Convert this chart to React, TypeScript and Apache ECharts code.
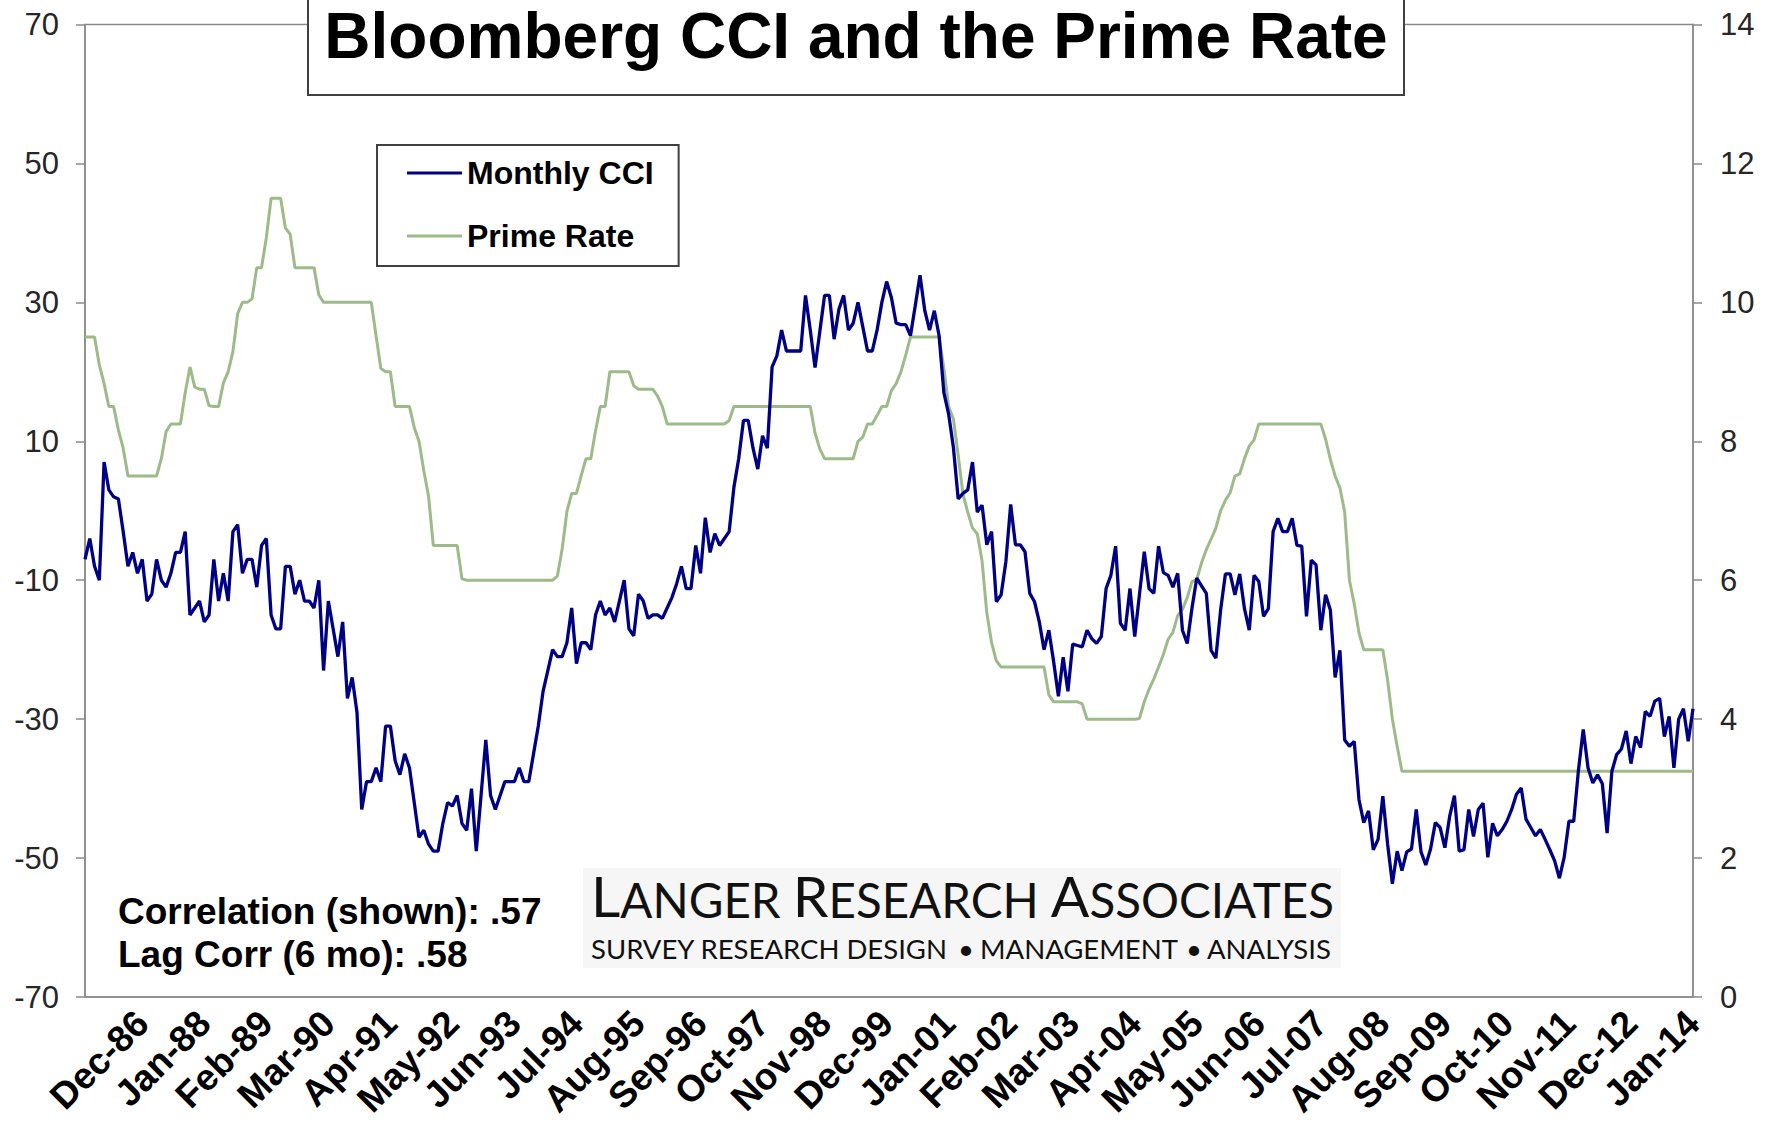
import React, { useEffect, useRef } from "react";
import * as echarts from "echarts";

// Months (categories) run from Dec-85 to Jan-14
const MONTH_NAMES = ["Jan", "Feb", "Mar", "Apr", "May", "Jun", "Jul", "Aug", "Sep", "Oct", "Nov", "Dec"];
const FIRST_YEAR = 1985;
const FIRST_MONTH = 11; // December
const MONTH_COUNT = 338;
const categories: string[] = [];
for (let k = 0; k < MONTH_COUNT; k++) {
  const m = (FIRST_MONTH + k) % 12;
  const y = FIRST_YEAR + Math.floor((FIRST_MONTH + k) / 12);
  categories.push(`${MONTH_NAMES[m]}-${String(y % 100).padStart(2, "0")}`);
}

// Tick labels
const leftTicks = [-70, -50, -30, -10, 10, 30, 50, 70];
const rightTicks = [0, 2, 4, 6, 8, 10, 12, 14];
const xLabelFirst = 12; // Dec-86
const xLabelStep = 13;

// Monthly CCI (left axis)
const cci: number[] = [
  -7, -4, -8, -10, 7, 3, 2, 1.7, -3, -8, -6, -9,
  -7, -13, -12, -7, -10, -11, -9, -6, -6, -3, -15, -14,
  -13, -16, -15, -7, -13, -9, -13, -3, -2, -9, -7, -7,
  -11, -5, -4, -15, -17, -17, -8, -8, -12, -10, -13, -13,
  -14, -10, -23, -13, -17, -21, -16, -27, -24, -29, -43, -39,
  -39, -37, -39, -31, -31, -36, -38, -35, -37, -42, -47, -46,
  -48, -49, -49, -45, -42, -42.5, -41, -45, -46, -40, -49, -41,
  -33, -41, -43, -41, -39, -39, -39, -37, -39, -39, -35, -31,
  -26, -23, -20, -21, -21, -19, -14, -22, -19, -19, -20, -15,
  -13, -15, -14, -16, -13, -10, -17, -18, -12, -13, -15.5, -15,
  -15, -15.5, -14, -12.5, -10.5, -8, -11.2, -11.2, -5, -9, -1, -6,
  -3.3, -5, -4, -3, 3.4, 7.5, 13, 13, 9, 6, 10.8, 9,
  20.7, 22.3, 26, 23, 23, 23, 23, 31, 26, 20.6, 25.8, 31,
  31, 24.7, 29, 31, 26, 27, 30, 26.5, 23, 23, 26, 30,
  33, 30.7, 27, 26.8, 26.8, 25.2, 29.5, 33.9, 28.8, 26, 28.8, 25.2,
  17, 13.9, 9.1, 1.7, 2.5, 3, 7, -0.2, 0.8, -4.9, -3, -13.1,
  -12.1, -7.3, 0.9, -4.9, -4.9, -5.9, -11.9, -13.1, -16, -20, -17.2, -21.7,
  -26.7, -21.1, -26, -19.2, -19.4, -19.6, -17.2, -18.4, -19.1, -18.1, -11.2, -9.3,
  -5.1, -16.2, -17.2, -11.2, -18.1, -12, -5.9, -11.2, -11.9, -5.1, -8.9, -9.3,
  -11, -9, -17.2, -19.1, -14, -9.7, -10.8, -11.9, -20.1, -21.2, -14.3, -9.1,
  -9.1, -12.1, -9.1, -14.1, -17.2, -9.3, -10.2, -15.2, -14.1, -3, -1.1, -3,
  -3, -1.1, -5, -5.1, -15.2, -7.1, -7.8, -17.2, -12.1, -14.3, -24, -20.1,
  -33, -33.9, -33.2, -41.6, -44.9, -43.2, -48.8, -47.3, -41.1, -48, -53.7, -49,
  -51.8, -49.1, -48.7, -43, -49.1, -51, -48.7, -44.9, -45.6, -48.5, -44, -41,
  -49, -48.8, -43, -46.9, -43, -42.1, -49.9, -45, -46.8, -45.9, -44.7, -43,
  -40.8, -39.9, -44.4, -45.6, -46.8, -45.9, -47.3, -48.8, -50.4, -52.9, -49.9, -44.7,
  -44.7, -37.3, -31.5, -37, -39.2, -38, -39.3, -46.4, -37.5, -35.1, -34.3, -31.7,
  -36.4, -32.5, -34.1, -28.9, -29.6, -27.4, -27, -32.5, -29.6, -37, -30, -28.5,
  -33.2, -28.5,
];

// Prime rate (right axis, %)
const primeRate: number[] = [
  9.5, 9.5, 9.5, 9.1, 8.83, 8.5, 8.5, 8.16, 7.9, 7.5, 7.5, 7.5,
  7.5, 7.5, 7.5, 7.5, 7.75, 8.14, 8.25, 8.25, 8.25, 8.7, 9.07, 8.78,
  8.75, 8.75, 8.51, 8.5, 8.5, 8.84, 9.0, 9.29, 9.84, 10.0, 10.0, 10.05,
  10.5, 10.5, 10.93, 11.5, 11.5, 11.5, 11.07, 10.98, 10.5, 10.5, 10.5, 10.5,
  10.5, 10.11, 10, 10, 10, 10, 10, 10, 10, 10, 10, 10,
  10, 9.52, 9.05, 9.0, 9.0, 8.5, 8.5, 8.5, 8.5, 8.2, 8.0, 7.58,
  7.21, 6.5, 6.5, 6.5, 6.5, 6.5, 6.5, 6.02, 6, 6, 6, 6,
  6, 6, 6, 6, 6, 6, 6, 6, 6, 6, 6, 6,
  6, 6, 6, 6.06, 6.45, 6.99, 7.25, 7.25, 7.51, 7.75, 7.75, 8.15,
  8.5, 8.5, 9, 9, 9, 9, 9, 8.8, 8.75, 8.75, 8.75, 8.75,
  8.65, 8.5, 8.25, 8.25, 8.25, 8.25, 8.25, 8.25, 8.25, 8.25, 8.25, 8.25,
  8.25, 8.25, 8.25, 8.3, 8.5, 8.5, 8.5, 8.5, 8.5, 8.5, 8.5, 8.5,
  8.5, 8.5, 8.5, 8.5, 8.5, 8.5, 8.5, 8.5, 8.5, 8.12, 7.89, 7.75,
  7.75, 7.75, 7.75, 7.75, 7.75, 7.75, 8.0, 8.06, 8.25, 8.25, 8.37, 8.5,
  8.5, 8.73, 8.83, 9.0, 9.24, 9.5, 9.5, 9.5, 9.5, 9.5, 9.5, 9.5,
  9.05, 8.5, 8.32, 7.8, 7.24, 6.98, 6.75, 6.67, 6.28, 5.53, 5.1, 4.84,
  4.75, 4.75, 4.75, 4.75, 4.75, 4.75, 4.75, 4.75, 4.75, 4.75, 4.35, 4.25,
  4.25, 4.25, 4.25, 4.25, 4.25, 4.22, 4.0, 4.0, 4.0, 4.0, 4.0, 4.0,
  4.0, 4.0, 4.0, 4.0, 4.0, 4.01, 4.25, 4.43, 4.58, 4.75, 4.93, 5.15,
  5.25, 5.49, 5.58, 5.75, 5.98, 6.01, 6.25, 6.44, 6.59, 6.75, 7.0, 7.15,
  7.26, 7.5, 7.53, 7.75, 7.93, 8.02, 8.25, 8.25, 8.25, 8.25, 8.25, 8.25,
  8.25, 8.25, 8.25, 8.25, 8.25, 8.25, 8.25, 8.25, 8.03, 7.74, 7.5, 7.33,
  6.98, 6.0, 5.66, 5.24, 5.0, 5.0, 5.0, 5.0, 5.0, 4.56, 4.0, 3.61,
  3.25, 3.25, 3.25, 3.25, 3.25, 3.25, 3.25, 3.25, 3.25, 3.25, 3.25, 3.25,
  3.25, 3.25, 3.25, 3.25, 3.25, 3.25, 3.25, 3.25, 3.25, 3.25, 3.25, 3.25,
  3.25, 3.25, 3.25, 3.25, 3.25, 3.25, 3.25, 3.25, 3.25, 3.25, 3.25, 3.25,
  3.25, 3.25, 3.25, 3.25, 3.25, 3.25, 3.25, 3.25, 3.25, 3.25, 3.25, 3.25,
  3.25, 3.25, 3.25, 3.25, 3.25, 3.25, 3.25, 3.25, 3.25, 3.25, 3.25, 3.25,
  3.25, 3.25,
];

const TITLE = "Bloomberg CCI and the Prime Rate";
const SERIES_CCI = "Monthly CCI";
const SERIES_PRIME = "Prime Rate";
const NOTE_LINES = ["Correlation (shown): .57", "Lag Corr (6 mo): .58"];
const LOGO_SUB = ["SURVEY RESEARCH DESIGN", "\u2022", "MANAGEMENT", "\u2022", "ANALYSIS"];
const NBSP = "\u00a0";

const FONT = "'Liberation Sans', Arial, Helvetica, sans-serif";
const LOGO_FONT = "Lato, 'Open Sans', sans-serif";
const AXIS_GRAY = "#8a8a8a";
const CCI_COLOR = "#000085";
const PRIME_COLOR = "#9cbb89";

export default function App() {
  const ref = useRef<HTMLDivElement>(null);

  useEffect(() => {
    document.body.style.margin = "0";
    if (!ref.current) return;
    const chart = echarts.init(ref.current, undefined, { renderer: "svg" });

    const option: any = {
      animation: false,
      backgroundColor: "#ffffff",
      grid: {
        left: 85,
        right: 82,
        top: 24.5,
        bottom: 136,
        show: true,
        borderColor: AXIS_GRAY,
        borderWidth: 1.5,
        backgroundColor: "transparent",
      },
      legend: {
        data: [SERIES_CCI, SERIES_PRIME],
        orient: "vertical",
        left: 377,
        top: 145,
        padding: [12, 25, 14, 30],
        itemGap: 31,
        itemWidth: 55,
        itemHeight: 3,
        icon: "rect",
        backgroundColor: "#ffffff",
        borderColor: "#404040",
        borderWidth: 2,
        borderRadius: 0,
        textStyle: {
          fontSize: 32,
          fontWeight: "bold",
          color: "#000",
          fontFamily: FONT,
        },
      },
      xAxis: {
        type: "category",
        data: categories,
        boundaryGap: false,
        axisLine: { show: true, onZero: false, lineStyle: { color: AXIS_GRAY, width: 1.5 } },
        axisTick: { show: false },
        splitLine: { show: false },
        axisLabel: {
          interval: (i: number) => i >= xLabelFirst && (i - xLabelFirst) % xLabelStep === 0,
          rotate: 45,
          margin: 20,
          fontSize: 37,
          fontWeight: "bold",
          color: "#000",
          fontFamily: FONT,
        },
      },
      yAxis: [
        {
          type: "value",
          position: "left",
          min: leftTicks[0],
          max: leftTicks[leftTicks.length - 1],
          interval: 20,
          axisLine: { show: true, lineStyle: { color: AXIS_GRAY, width: 1.5 } },
          axisTick: { show: true, length: 9, lineStyle: { color: AXIS_GRAY, width: 1.5 } },
          splitLine: { show: false },
          axisLabel: { margin: 26, fontSize: 31, color: "#262626", fontFamily: FONT },
        },
        {
          type: "value",
          position: "right",
          min: rightTicks[0],
          max: rightTicks[rightTicks.length - 1],
          interval: 2,
          axisLine: { show: true, lineStyle: { color: AXIS_GRAY, width: 1.5 } },
          axisTick: { show: true, length: 9, lineStyle: { color: AXIS_GRAY, width: 1.5 } },
          splitLine: { show: false },
          axisLabel: { margin: 27, fontSize: 31, color: "#262626", fontFamily: FONT },
        },
      ],
      series: [
        {
          name: SERIES_PRIME,
          type: "line",
          yAxisIndex: 1,
          data: primeRate,
          symbol: "none",
          showSymbol: false,
          lineStyle: { color: PRIME_COLOR, width: 3 },
          itemStyle: { color: PRIME_COLOR },
          z: 2,
        },
        {
          name: SERIES_CCI,
          type: "line",
          yAxisIndex: 0,
          data: cci,
          symbol: "none",
          showSymbol: false,
          lineStyle: { color: CCI_COLOR, width: 3.3 },
          itemStyle: { color: CCI_COLOR },
          z: 3,
        },
      ],
      graphic: [
        {
          type: "rect",
          z: 100,
          shape: { x: 308, y: -10, width: 1096, height: 105 },
          style: { fill: "#ffffff", stroke: "#404040", lineWidth: 2 },
        },
        {
          type: "text",
          z: 101,
          x: 856,
          y: 36,
          style: {
            text: TITLE,
            fill: "#000",
            font: `bold 64px ${FONT}`,
            textAlign: "center",
            textVerticalAlign: "middle",
          },
        },
        {
          type: "text",
          z: 101,
          x: 118,
          y: 911,
          style: { text: NOTE_LINES[0], fill: "#000", font: `bold 37px ${FONT}`, textAlign: "left", textVerticalAlign: "middle" },
        },
        {
          type: "text",
          z: 101,
          x: 118,
          y: 954,
          style: { text: NOTE_LINES[1], fill: "#000", font: `bold 37px ${FONT}`, textAlign: "left", textVerticalAlign: "middle" },
        },
        {
          type: "rect",
          z: 90,
          shape: { x: 583, y: 868, width: 758, height: 100 },
          style: { fill: "#f6f6f6" },
        },
        {
          type: "text",
          z: 101,
          x: 591,
          y: 895,
          style: {
            text: `{b|L}{s|ANGER${NBSP}}{b|R}{s|ESEARCH${NBSP}}{b|A}{s|SSOCIATES}`,
            fill: "#111",
            textAlign: "left",
            textVerticalAlign: "middle",
            rich: {
              b: { fontSize: 57, lineHeight: 57, fontFamily: LOGO_FONT, verticalAlign: "bottom", fill: "#111" },
              s: { fontSize: 47.5, lineHeight: 47.5, fontFamily: LOGO_FONT, verticalAlign: "bottom", fill: "#111" },
            },
          },
        },
        ...[
          { t: LOGO_SUB[0], x: 591 },
          { t: LOGO_SUB[1], x: 958 },
          { t: LOGO_SUB[2], x: 980 },
          { t: LOGO_SUB[3], x: 1186 },
          { t: LOGO_SUB[4], x: 1207 },
        ].map((o) => ({
          type: "text",
          z: 101,
          x: o.x,
          y: 948,
          style: {
            text: o.t,
            fill: "#111",
            font: `27.5px ${LOGO_FONT}`,
            textAlign: "left",
            textVerticalAlign: "middle",
          },
        })),
      ],
    };

    chart.setOption(option);
    return () => {
      chart.dispose();
    };
  }, []);

  return (
    <div
      ref={ref}
      style={{ position: "absolute", left: 0, top: 0, width: 1775, height: 1133, background: "#fff" }}
    />
  );
}
